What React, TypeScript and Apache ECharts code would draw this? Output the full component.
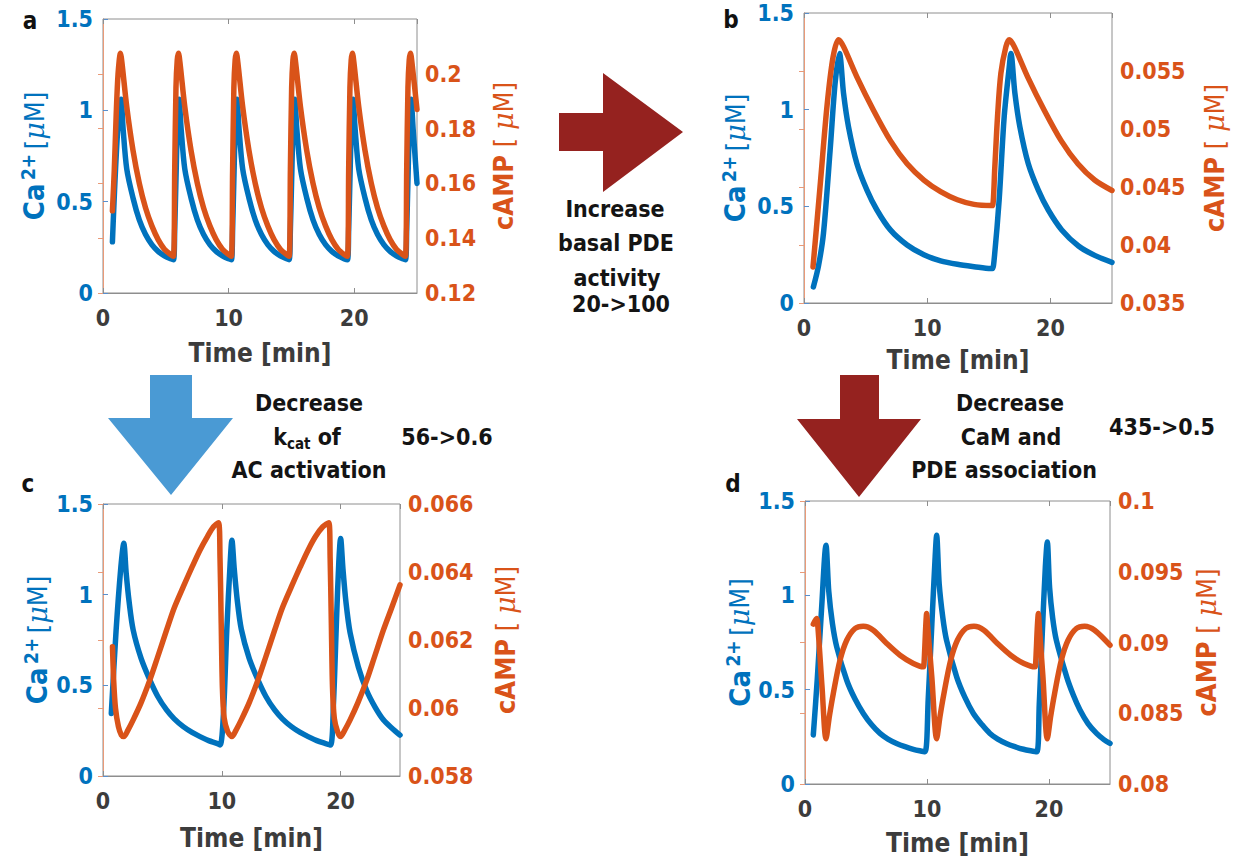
import React, { useEffect, useRef } from "react";
import * as echarts from "echarts";

// ---------- data ----------
// Time axis (min) and Ca2+ axis (µM) shared by all panels: [min, max, step]
const timeAxis = [0, 25, 10];
const caAxis = [0, 1.5, 0.5];
// cAMP axis per panel: [min, max, step]
const campAxisA = [0.12, 0.22, 0.02];
const campAxisB = [0.035, 0.06, 0.005];
const campAxisC = [0.058, 0.066, 0.002];
const campAxisD = [0.08, 0.1, 0.005];

// Panel a
const caA: number[][] = [
  [0.75, 0.28], [0.85, 0.45], [1.0, 0.68], [1.2, 0.92], [1.44, 1.06], [1.6, 0.9], [1.89, 0.68], [2.39, 0.52], [2.89, 0.4], [3.39, 0.32], [3.89, 0.265], [4.39, 0.228], [4.89, 0.203], [5.39, 0.187], [5.61, 0.182],
  [5.71, 0.35], [5.81, 0.62], [5.91, 0.88], [6.06, 1.06], [6.22, 0.9], [6.51, 0.68], [7.01, 0.52], [7.51, 0.4], [8.01, 0.32], [8.51, 0.265], [9.01, 0.228], [9.51, 0.203], [10.01, 0.187], [10.22, 0.182],
  [10.32, 0.35], [10.42, 0.62], [10.52, 0.88], [10.67, 1.06], [10.83, 0.9], [11.12, 0.68], [11.62, 0.52], [12.12, 0.4], [12.62, 0.32], [13.12, 0.265], [13.62, 0.228], [14.12, 0.203], [14.62, 0.187], [14.82, 0.182],
  [14.92, 0.35], [15.02, 0.62], [15.12, 0.88], [15.27, 1.06], [15.43, 0.9], [15.72, 0.68], [16.22, 0.52], [16.72, 0.4], [17.22, 0.32], [17.72, 0.265], [18.22, 0.228], [18.72, 0.203], [19.22, 0.187], [19.46, 0.182],
  [19.56, 0.35], [19.66, 0.62], [19.76, 0.88], [19.91, 1.06], [20.07, 0.9], [20.36, 0.68], [20.86, 0.52], [21.36, 0.4], [21.86, 0.32], [22.36, 0.265], [22.86, 0.228], [23.36, 0.203], [23.86, 0.187], [24.08, 0.182],
  [24.18, 0.35], [24.28, 0.62], [24.38, 0.88], [24.53, 1.06], [24.69, 0.9], [25, 0.6],
];
const campA: number[][] = [
  [0.75, 0.15], [0.9, 0.165], [1.05, 0.185], [1.2, 0.2], [1.39, 0.2075], [1.51, 0.204], [1.89, 0.188], [2.39, 0.172], [2.89, 0.16], [3.39, 0.151], [3.89, 0.1445], [4.39, 0.1395], [4.89, 0.136], [5.39, 0.134], [5.61, 0.1334],
  [5.71, 0.165], [5.81, 0.195], [5.91, 0.205], [6.01, 0.2075], [6.13, 0.204], [6.51, 0.188], [7.01, 0.172], [7.51, 0.16], [8.01, 0.151], [8.51, 0.1445], [9.01, 0.1395], [9.51, 0.136], [10.01, 0.134], [10.22, 0.1334],
  [10.32, 0.165], [10.42, 0.195], [10.52, 0.205], [10.62, 0.2075], [10.74, 0.204], [11.12, 0.188], [11.62, 0.172], [12.12, 0.16], [12.62, 0.151], [13.12, 0.1445], [13.62, 0.1395], [14.12, 0.136], [14.62, 0.134], [14.82, 0.1334],
  [14.92, 0.165], [15.02, 0.195], [15.12, 0.205], [15.22, 0.2075], [15.34, 0.204], [15.72, 0.188], [16.22, 0.172], [16.72, 0.16], [17.22, 0.151], [17.72, 0.1445], [18.22, 0.1395], [18.72, 0.136], [19.22, 0.134], [19.46, 0.1334],
  [19.56, 0.165], [19.66, 0.195], [19.76, 0.205], [19.86, 0.2075], [19.98, 0.204], [20.36, 0.188], [20.86, 0.172], [21.36, 0.16], [21.86, 0.151], [22.36, 0.1445], [22.86, 0.1395], [23.36, 0.136], [23.86, 0.134], [24.08, 0.1334],
  [24.18, 0.165], [24.28, 0.195], [24.38, 0.205], [24.48, 0.2075], [24.6, 0.204], [25, 0.187],
];

// Panel b
const caB: number[][] = [
  [0.76, 0.083], [1.17, 0.19], [1.58, 0.36], [2.12, 0.79], [2.53, 1.14], [2.88, 1.29], [3.21, 1.084], [3.61, 0.912], [4.29, 0.722], [5.11, 0.584], [5.92, 0.481], [7.01, 0.378], [8.37, 0.3], [9.73, 0.25], [11.09, 0.218], [12.45, 0.2], [13.8, 0.188], [15.16, 0.178],
  [15.3, 0.178], [15.43, 0.222], [15.84, 0.533], [16.25, 0.964], [16.66, 1.222], [16.79, 1.291], [17.12, 1.084], [17.52, 0.912], [18.2, 0.722], [19.02, 0.584], [19.83, 0.481], [20.92, 0.378], [22.28, 0.295], [23.64, 0.245], [25, 0.21],
];
const campB: number[][] = [
  [0.73, 0.0381], [1.3, 0.045], [1.87, 0.052], [2.36, 0.0562], [2.8, 0.0577], [3.21, 0.0571], [4.29, 0.0545], [5.65, 0.0516], [7.01, 0.049], [8.37, 0.047], [9.73, 0.0456], [11.09, 0.0446], [12.45, 0.0439], [13.8, 0.0435], [15.16, 0.0434],
  [15.3, 0.0434], [15.49, 0.04675], [15.71, 0.0511], [15.98, 0.0548], [16.39, 0.0571], [16.66, 0.0577], [17.07, 0.0571], [18.15, 0.0545], [19.51, 0.0516], [20.87, 0.049], [22.23, 0.047], [23.59, 0.0456], [25, 0.0447],
];

// Panel c
const caC: number[][] = [
  [0.7, 0.345], [1.1, 0.8], [1.5, 1.15], [1.75, 1.283], [1.95, 1.12], [2.2, 0.96], [2.54, 0.805], [3.2, 0.65], [3.94, 0.53], [4.6, 0.44], [5.35, 0.364], [6.0, 0.315], [6.76, 0.272], [7.5, 0.24], [8.17, 0.217], [8.9, 0.195], [9.58, 0.18], [9.86, 0.171],
  [10.14, 0.345], [10.42, 0.805], [10.7, 1.17], [10.85, 1.3], [11.05, 1.14], [11.3, 0.97], [11.64, 0.81], [12.3, 0.65], [13.04, 0.53], [13.7, 0.44], [14.45, 0.364], [15.1, 0.315], [15.86, 0.272], [16.6, 0.24], [17.27, 0.217], [18.0, 0.195], [18.68, 0.18], [19.15, 0.171],
  [19.4, 0.4], [19.65, 0.85], [19.85, 1.18], [20.0, 1.31], [20.2, 1.14], [20.45, 0.96], [20.8, 0.79], [21.5, 0.6], [22.2, 0.47], [22.9, 0.38], [23.6, 0.31], [24.3, 0.265], [25, 0.226],
];
const campC: number[][] = [
  [0.8, 0.0618], [0.9, 0.0608], [1.05, 0.06], [1.3, 0.05945], [1.55, 0.0592], [1.75, 0.05916], [2.1, 0.05935], [2.54, 0.05965], [3.2, 0.06015], [3.94, 0.06082], [4.6, 0.0615], [5.35, 0.06229], [6.0, 0.06295], [6.76, 0.06357], [7.5, 0.06415], [8.17, 0.06465], [8.8, 0.06505], [9.3, 0.06533], [9.72, 0.06545],
  [9.85, 0.0644], [9.95, 0.0625], [10.05, 0.0606], [10.2, 0.0597], [10.5, 0.0593], [10.85, 0.05916],
  [11.2, 0.05935], [11.64, 0.05965], [12.3, 0.06015], [13.04, 0.06082], [13.7, 0.0615], [14.45, 0.06229], [15.1, 0.06295], [15.86, 0.06357], [16.6, 0.06415], [17.27, 0.06465], [17.9, 0.06505], [18.5, 0.06533], [19.01, 0.06545],
  [19.12, 0.0644], [19.22, 0.0625], [19.32, 0.0606], [19.47, 0.0597], [19.75, 0.0593], [20.0, 0.05916],
  [20.35, 0.05935], [20.8, 0.05965], [21.45, 0.06015], [22.2, 0.06082], [22.85, 0.0615], [23.6, 0.06229], [24.3, 0.06295], [25, 0.06362],
];

// Panel d
const caD: number[][] = [
  [0.68, 0.26], [1.0, 0.55], [1.35, 0.92], [1.72, 1.265], [1.95, 1.02], [2.25, 0.85], [2.6, 0.727], [3.42, 0.55], [4.1, 0.45], [4.78, 0.374], [5.45, 0.315], [6.15, 0.268], [6.8, 0.238], [7.51, 0.215], [8.2, 0.198], [8.88, 0.184], [9.4, 0.176], [9.84, 0.171],
  [10.1, 0.45], [10.4, 0.85], [10.65, 1.18], [10.79, 1.318], [11.0, 1.06], [11.3, 0.88], [11.6, 0.762], [12.43, 0.568], [13.1, 0.46], [13.8, 0.374], [14.5, 0.315], [15.16, 0.268], [15.8, 0.238], [16.5, 0.215], [17.2, 0.198], [17.9, 0.184], [18.5, 0.176], [19.0, 0.171],
  [19.2, 0.42], [19.45, 0.8], [19.7, 1.15], [19.86, 1.283], [20.05, 1.04], [20.3, 0.88], [20.6, 0.762], [21.45, 0.568], [22.0, 0.47], [22.54, 0.392], [23.2, 0.32], [23.9, 0.268], [24.5, 0.235], [25, 0.215],
];
const campD: number[][] = [
  [0.68, 0.0913], [0.95, 0.0917], [1.05, 0.0912], [1.4, 0.0868], [1.72, 0.0832], [2.0, 0.0848], [2.32, 0.0864], [2.87, 0.08875], [3.42, 0.09016], [4.1, 0.09099], [4.78, 0.09115], [5.6, 0.09087], [6.7, 0.08993], [7.79, 0.0891], [8.88, 0.08852], [9.7, 0.08828],
  [9.75, 0.0884], [9.9, 0.0912], [9.97, 0.09205], [10.05, 0.0912], [10.4, 0.0875], [10.79, 0.0832],
  [11.07, 0.0848], [11.39, 0.0864], [11.94, 0.08875], [12.49, 0.09016], [13.17, 0.09099], [13.85, 0.09115], [14.67, 0.09087], [15.77, 0.08993], [16.86, 0.0891], [17.95, 0.08852], [18.85, 0.08828],
  [18.9, 0.0884], [19.05, 0.0912], [19.13, 0.09205], [19.2, 0.0912], [19.5, 0.0876], [19.86, 0.0832],
  [20.14, 0.0848], [20.46, 0.0864], [21.01, 0.08875], [21.56, 0.09016], [22.24, 0.09099], [22.92, 0.09115], [23.74, 0.09087], [25, 0.08981],
];

// ---------- styling ----------
const BLUE = "#0072BD";
const ORANGE = "#D95319";
const BLUE_AXIS = "#5a8fcc";
const ORANGE_AXIS = "#e99a78";
const BOX = "#8e8e8e";
const XTEXT = "#3c3c3c";
const FONT = "'DejaVu Sans Condensed', 'DejaVu Sans', sans-serif";
const SERIF = "'DejaVu Serif', 'Liberation Serif', serif";
const RED_ARROW = "#95221F";
const BLUE_ARROW = "#4A9AD4";

type Panel = {
  grid: { left: number; top: number; width: number; height: number };
  campAxis: number[];
  ca: number[][];
  camp: number[][];
  leftGap: number;
  rightGap: number;
  xGap: number;
};

const panels: Panel[] = [
  { grid: { left: 103, top: 19, width: 314, height: 274 }, campAxis: campAxisA, ca: caA, camp: campA, leftGap: 53, rightGap: 70, xGap: 46 },
  { grid: { left: 804, top: 13, width: 308, height: 290 }, campAxis: campAxisB, ca: caB, camp: campB, leftGap: 53, rightGap: 86, xGap: 43 },
  { grid: { left: 103, top: 504, width: 297, height: 272 }, campAxis: campAxisC, ca: caC, camp: campC, leftGap: 50, rightGap: 89, xGap: 48 },
  { grid: { left: 805, top: 501, width: 305, height: 283 }, campAxis: campAxisD, ca: caD, camp: campD, leftGap: 49, rightGap: 80, xGap: 45 },
];

const caName = "{ca|Ca}{sp| }{sup|2+}{sp2| }{br|[}{mu|μ}{br|M]}";
const campName = "{c|cAMP}{br| [ }{mu|μ}{br|M]}";

function nameRich(color: string, bigKey: string, bigSize: number) {
  const r: any = {
    sp: { fontSize: 12, lineHeight: 32, color, fontFamily: FONT },
    sp2: { fontSize: 16, lineHeight: 32, color, fontFamily: FONT },
    sup: { fontSize: 19, fontWeight: "bold", lineHeight: 20, verticalAlign: "top", color, fontFamily: FONT },
    br: { fontSize: 27, fontWeight: "normal", lineHeight: 32, color, fontFamily: FONT },
    mu: { fontSize: 27, fontStyle: "italic", fontWeight: "normal", lineHeight: 32, color, fontFamily: SERIF },
  };
  r[bigKey] = { fontSize: bigSize, fontWeight: "bold", lineHeight: 32, color, fontFamily: FONT };
  return r;
}

function buildOption() {
  const grid: any[] = [];
  const xAxis: any[] = [];
  const yAxis: any[] = [];
  const series: any[] = [];

  panels.forEach((p, i) => {
    grid.push({ ...p.grid, show: true, borderColor: BOX, borderWidth: 1, backgroundColor: "transparent", containLabel: false, outerBoundsMode: "none" });
    xAxis.push({
      type: "value", gridIndex: i, position: "bottom",
      min: timeAxis[0], max: timeAxis[1], interval: timeAxis[2],
      name: "Time [min]", nameLocation: "middle", nameGap: p.xGap,
      nameTextStyle: { fontSize: 26, fontWeight: "bold", fontFamily: FONT, color: XTEXT, lineHeight: 28 },
      axisLine: { show: true, lineStyle: { color: BOX, width: 1 } },
      axisTick: { show: true, inside: true, length: 5, lineStyle: { color: BOX } },
      axisLabel: { fontSize: 23, fontWeight: "bold", fontFamily: FONT, color: XTEXT, margin: 13, lineHeight: 24, showMaxLabel: false },
      splitLine: { show: false },
    });
    yAxis.push({
      type: "value", gridIndex: i, position: "left",
      min: caAxis[0], max: caAxis[1], interval: caAxis[2],
      name: caName, nameLocation: "middle", nameRotate: 90, nameGap: p.leftGap,
      nameTextStyle: { rich: nameRich(BLUE, "ca", 29) },
      axisLine: { show: true, lineStyle: { color: BLUE_AXIS, width: 1 } },
      axisTick: { show: true, inside: true, length: 5, lineStyle: { color: BLUE_AXIS } },
      axisLabel: { fontSize: 23, fontWeight: "bold", fontFamily: FONT, color: BLUE, margin: 10, lineHeight: 24 },
      splitLine: { show: false },
    });
    yAxis.push({
      type: "value", gridIndex: i, position: "right",
      min: p.campAxis[0], max: p.campAxis[1], interval: p.campAxis[2],
      name: campName, nameLocation: "middle", nameRotate: 90, nameGap: p.rightGap,
      nameTextStyle: { rich: nameRich(ORANGE, "c", 27) },
      axisLine: { show: true, lineStyle: { color: ORANGE_AXIS, width: 1 } },
      axisTick: { show: true, inside: true, length: 5, lineStyle: { color: ORANGE_AXIS } },
      axisLabel: { fontSize: 23, fontWeight: "bold", fontFamily: FONT, color: ORANGE, margin: 8, lineHeight: 24, showMaxLabel: i === 0 || i === 1 ? false : true },
      splitLine: { show: false },
    });
    series.push({
      type: "line", name: "Ca2+", xAxisIndex: i, yAxisIndex: 2 * i, data: p.ca,
      showSymbol: false, symbol: "none", smooth: 0.3,
      lineStyle: { width: 5.5, color: BLUE, join: "round", cap: "round" }, itemStyle: { color: BLUE }, z: 2,
    });
    series.push({
      type: "line", name: "cAMP", xAxisIndex: i, yAxisIndex: 2 * i + 1, data: p.camp,
      showSymbol: false, symbol: "none", smooth: 0.3,
      lineStyle: { width: 5.5, color: ORANGE, join: "round", cap: "round" }, itemStyle: { color: ORANGE }, z: 3,
    });
  });

  // top x axes (box ticks)
  panels.forEach((p, i) => {
    xAxis.push({
      type: "value", gridIndex: i, position: "top",
      min: timeAxis[0], max: timeAxis[1], interval: timeAxis[2],
      axisLine: { show: false },
      axisTick: { show: true, inside: true, length: 5, lineStyle: { color: BOX } },
      axisLabel: { show: false },
      splitLine: { show: false },
    });
  });

  const txt = (x: number, y: number, text: string, extra: any = {}) => ({
    type: "text", x, y, z: 10,
    style: { text, fill: "#141414", fontSize: 23, fontWeight: "bold", fontFamily: FONT, lineHeight: 24, align: "center", verticalAlign: "middle", ...extra },
  });
  const panelLabel = (x: number, y: number, text: string) => ({
    type: "text", x, y, z: 10,
    style: { text, fill: "#111", fontSize: 24, fontWeight: "bold", fontFamily: FONT, lineHeight: 24, align: "center", verticalAlign: "middle" },
  });

  const graphic: any[] = [
    { type: "polygon", z: 5, shape: { points: [[559, 113], [603, 113], [603, 73], [683, 132], [603, 192], [603, 151], [559, 151]] }, style: { fill: RED_ARROW } },
    { type: "polygon", z: 5, shape: { points: [[150, 375], [192, 375], [192, 418], [233, 418], [171, 495], [108, 418], [150, 418]] }, style: { fill: BLUE_ARROW } },
    { type: "polygon", z: 5, shape: { points: [[840, 375], [879, 375], [879, 419], [921, 419], [859, 497], [797, 419], [840, 419]] }, style: { fill: RED_ARROW } },
    panelLabel(30, 21, "a"),
    panelLabel(731, 20, "b"),
    panelLabel(28, 484, "c"),
    panelLabel(733, 484, "d"),
    txt(615, 209, "Increase"),
    txt(616, 243, "basal PDE"),
    txt(617, 278, "activity"),
    txt(621, 304, "20->100"),
    txt(309, 403, "Decrease"),
    {
      type: "text", x: 307, y: 437, z: 10,
      style: {
        text: "{k|k}{s|cat}{o| of}", align: "center", verticalAlign: "middle",
        rich: {
          k: { fontSize: 23, fontWeight: "bold", fontFamily: FONT, fill: "#141414", lineHeight: 28 },
          s: { fontSize: 15, fontWeight: "bold", fontFamily: FONT, fill: "#141414", lineHeight: 16, verticalAlign: "bottom" },
          o: { fontSize: 23, fontWeight: "bold", fontFamily: FONT, fill: "#141414", lineHeight: 28 },
        },
      },
    },
    txt(309, 470, "AC activation"),
    txt(447, 437, "56->0.6"),
    txt(1010, 403, "Decrease"),
    txt(1011, 437, "CaM and"),
    txt(1004, 470, "PDE association"),
    txt(1162, 427, "435->0.5"),
  ];

  return {
    animation: false,
    backgroundColor: "#ffffff",
    grid, xAxis, yAxis, series, graphic,
    tooltip: { show: false },
  };
}

export default function App() {
  const ref = useRef<HTMLDivElement>(null);
  useEffect(() => {
    if (!ref.current) return;
    const chart = echarts.init(ref.current, undefined, { renderer: "svg" });
    chart.setOption(buildOption() as any);
    return () => chart.dispose();
  }, []);
  return (
    <div
      ref={ref}
      style={{ position: "absolute", left: 0, top: 0, width: 1235, height: 860, background: "#fff" }}
    />
  );
}
